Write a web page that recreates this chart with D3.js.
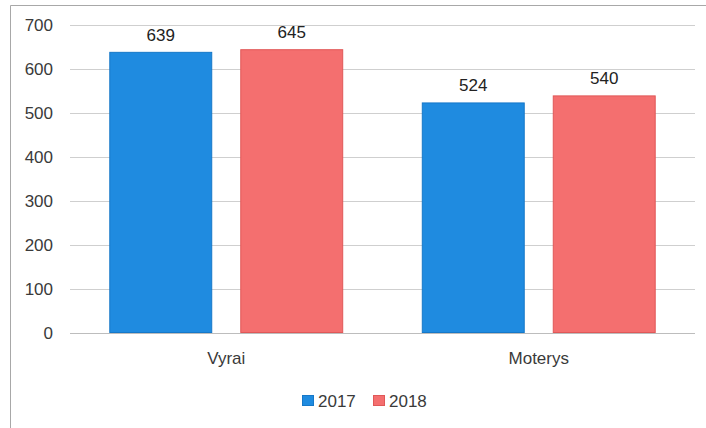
<!DOCTYPE html>
<html>
<head>
<meta charset="utf-8">
<script src="https://cdn.jsdelivr.net/npm/d3@7"></script>
<style>
  body { margin: 0; background: #fff; }
  svg { display: block; font-family: "Liberation Sans", Arial, sans-serif; }
  .axis text { fill: #3a3a3a; font-size: 17px; }
  .axis .domain { display: none; }
</style>
</head>
<body>
<div id="chart"></div>
<script>
const categories = ['Vyrai', 'Moterys']
const years = ['2017', '2018']
const values2017 = [639, 524]
const values2018 = [645, 540]
const yTicks = [0, 100, 200, 300, 400, 500, 600, 700]

const colors = { '2017': '#1f8be0', '2018': '#f46f6f' }
const borders = { '2017': '#1678c8', '2018': '#e05858' }

;(function() {
  const chartWidth = 706
  const chartHeight = 428
  const margin = { top: 25, right: 11, bottom: 95, left: 70 }
  const height = chartHeight - margin.top - margin.bottom
  const width = chartWidth - margin.left - margin.right

  const rows = categories.map((c, i) => ({
    category: c,
    values: [
      { year: '2017', value: values2017[i] },
      { year: '2018', value: values2018[i] },
    ],
  }))

  const root = d3.select('#chart')
    .append('svg')
      .attr('width', chartWidth)
      .attr('height', chartHeight)

  // outer frame (cropped from a larger chart)
  root.append('path')
    .attr('d', 'M10.5,' + chartHeight + ' L10.5,5.5 L' + chartWidth + ',5.5')
    .attr('stroke', '#a8a8a8')
    .attr('fill', 'none')

  const svg = root.append('g')
    .attr('transform', `translate(${margin.left}, ${margin.top})`)

  const y = d3.scaleLinear()
    .domain([0, 700])
    .range([height, 0])

  const x0 = d3.scaleBand()
    .domain(categories)
    .range([0, width])

  const x1 = d3.scaleBand()
    .domain(years)
    .range([0, x0.bandwidth()])
    .paddingInner(0.214)
    .paddingOuter(0.3)

  // gridlines + y labels
  const yAxis = svg.append('g')
    .attr('class', 'axis')
    .call(d3.axisLeft(y).tickValues(yTicks).tickSize(-width).tickPadding(17))
  yAxis.selectAll('.tick line')
    .attr('stroke', '#cfcfcf')
  yAxis.selectAll('.tick line')
    .filter(d => d === 0)
    .attr('stroke', '#bdbdbd')

  // bars
  const group = svg.selectAll('.group')
    .data(rows)
    .enter()
    .append('g')
      .attr('class', 'group')
      .attr('transform', d => `translate(${x0(d.category)}, 0)`)

  group.selectAll('rect')
    .data(d => d.values)
    .enter()
    .append('rect')
      .attr('x', d => x1(d.year) + 0.5)
      .attr('y', d => y(d.value) + 0.5)
      .attr('width', x1.bandwidth() - 1)
      .attr('height', d => y(0) - y(d.value) - 1)
      .attr('fill', d => colors[d.year])
      .attr('stroke', d => borders[d.year])
      .attr('stroke-width', 1)

  // value labels
  group.selectAll('.value')
    .data(d => d.values)
    .enter()
    .append('text')
      .attr('class', 'value')
      .attr('x', d => x1(d.year) + x1.bandwidth() / 2)
      .attr('y', d => y(d.value) - 11)
      .attr('text-anchor', 'middle')
      .attr('font-size', 17)
      .attr('fill', '#222')
      .text(d => d.value)

  // category axis
  svg.append('g')
    .attr('class', 'axis')
    .attr('transform', `translate(0, ${height})`)
    .call(d3.axisBottom(x0).tickSize(0).tickPadding(19))

  // legend
  const legend = root.append('g')
    .attr('transform', 'translate(302, 394)')

  const item = legend.selectAll('.item')
    .data(years)
    .enter()
    .append('g')
      .attr('class', 'item')
      .attr('transform', (d, i) => `translate(${i * 71}, 0)`)

  item.append('rect')
    .attr('x', 0.5)
    .attr('y', 1.5)
    .attr('width', 11)
    .attr('height', 10)
    .attr('fill', d => colors[d])
    .attr('stroke', d => borders[d])

  item.append('text')
    .attr('x', 16)
    .attr('y', 13)
    .attr('font-size', 17)
    .attr('fill', '#3a3a3a')
    .text(d => d)
})()
</script>
</body>
</html>
